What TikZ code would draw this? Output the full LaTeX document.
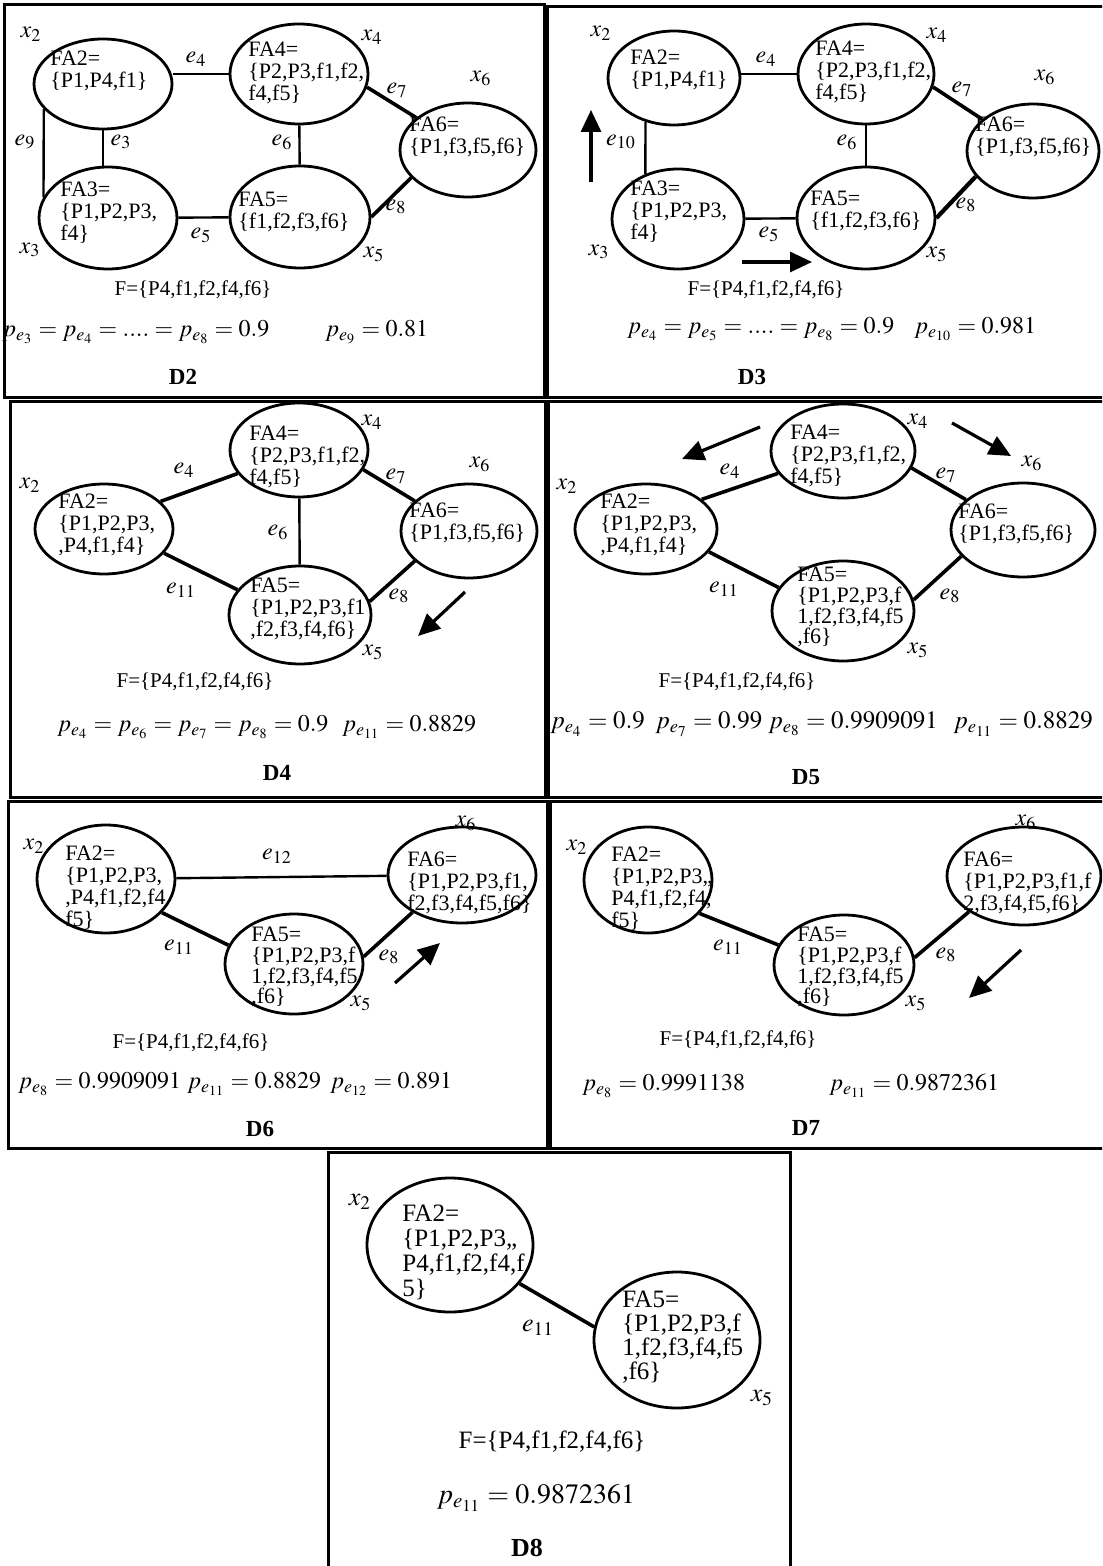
\documentclass[tikz,border=0pt]{standalone}
\usepackage{mathptmx}
\usepackage{fontspec}
\setmainfont{Liberation Serif}
\usepackage{tikz}
\usetikzlibrary{shapes,arrows.meta}

\tikzset{
  fa/.style={ellipse, draw, line width=1.4pt, inner sep=0pt},
  settext/.style={anchor=north west, align=left, inner sep=0pt, font=\fontsize{11}{11}\selectfont},
  lbl/.style={inner sep=0pt, font=\fontsize{12}{13}\selectfont},
  fset/.style={inner sep=0pt, font=\fontsize{10.5}{11}\selectfont},
  prob/.style={anchor=west, inner sep=0pt, font=\fontsize{12}{13}\selectfont},
  tag/.style={inner sep=0pt, font=\fontsize{11.5}{12}\selectfont\bfseries},
  link/.style={line width=1.2pt},
  heavy/.style={line width=1.8pt},
  flow/.style={line width=1.6pt, -{Triangle[length=11pt,width=10pt]}},
  panel/.style={line width=1.5pt},
}

\begin{document}
\begin{tikzpicture}[x=0.5pt,y=-0.5pt]
  \useasboundingbox (0,0) rectangle (1102,1566);
  \clip (0,0) rectangle (1102,1566);

  % ---------------- D2 ----------------
  \begin{scope}[name prefix=d2-]
    \draw[panel] (4,5) rectangle (544,398);
    % sets
    \node[fa, minimum width=69pt, minimum height=45pt] (fa2) at (103,84) {};
    \node[fa, minimum width=69pt, minimum height=50pt] (fa4) at (299,74) {};
    \node[fa, minimum width=68pt, minimum height=47pt] (fa6) at (468,150) {};
    \node[fa, minimum width=69pt, minimum height=51pt] (fa3) at (108,218) {};
    \node[fa, minimum width=70pt, minimum height=51pt] (fa5) at (300,217) {};
    \node[settext] (t2) at (50,51) {FA2=\\\{P1,P4,f1\}};
    \node[settext] (t4) at (248,42) {FA4=\\\{P2,P3,f1,f2,\\f4,f5\}};
    \node[settext] (t6) at (409,117) {FA6=\\\{P1,f3,f5,f6\}};
    \node[settext] (t3) at (60,182) {FA3=\\\{P1,P2,P3,\\f4\}};
    \node[settext] (t5) at (238,192) {FA5=\\\{f1,f2,f3,f6\}};
    % vertices
    \node[lbl] (x2) at (31,34) {$x_2$};
    \node[lbl] (x4) at (372,37) {$x_4$};
    \node[lbl] (x6) at (481,78) {$x_6$};
    \node[lbl] (x3) at (30,250) {$x_3$};
    \node[lbl] (x5) at (374,254) {$x_5$};
    % edges
    \draw[link] (fa2.east |- fa4.west) -- (fa4.west);
    \draw[link] (fa2.south) -- (fa2.south |- fa3.north);
    \draw[link] (fa2.203) -- (fa3.162);
    \draw[link] (fa3) -- (fa5);
    \draw[link] (fa4) -- (fa5);
    \draw[heavy] (fa4.349) -- (fa6.148);
    \draw[heavy] (fa5.east) -- (fa6.206);
    \node[lbl] (e4) at (196,59) {$e_4$};
    \node[lbl] (e7) at (397,90) {$e_7$};
    \node[lbl] (e9) at (25,142) {$e_9$};
    \node[lbl] (e3) at (121,142) {$e_3$};
    \node[lbl] (e6) at (282,142) {$e_6$};
    \node[lbl] (e8) at (396,207) {$e_8$};
    \node[lbl] (e5) at (201,235) {$e_5$};
    % probabilities
    \node[fset] (F) at (193,290) {F=\{P4,f1,f2,f4,f6\}};
    \node[prob] (p1) at (2,332) {$p_{e_3}=p_{e_4}=....=p_{e_8}=0.9$};
    \node[prob] (p2) at (325,332) {$p_{e_9}=0.81$};
    \node[tag] (name) at (183,377) {D2};
  \end{scope}

  % ---------------- D3 ----------------
  \begin{scope}[name prefix=d3-]
    \draw[panel] (547,7) rectangle (1110,398);
    \node[fa, minimum width=66pt, minimum height=47pt] (fa2) at (674,78) {};
    \node[fa, minimum width=68pt, minimum height=50pt] (fa4) at (866,74) {};
    \node[fa, minimum width=66pt, minimum height=47pt] (fa6) at (1033,151) {};
    \node[fa, minimum width=66pt, minimum height=50pt] (fa3) at (678,219) {};
    \node[fa, minimum width=69pt, minimum height=51pt] (fa5) at (866,218) {};
    \node[settext] (t2) at (630,50) {FA2=\\\{P1,P4,f1\}};
    \node[settext] (t4) at (815,41) {FA4=\\\{P2,P3,f1,f2,\\f4,f5\}};
    \node[settext] (t6) at (975,117) {FA6=\\\{P1,f3,f5,f6\}};
    \node[settext] (t3) at (630,181) {FA3=\\\{P1,P2,P3,\\f4\}};
    \node[settext] (t5) at (810,191) {FA5=\\\{f1,f2,f3,f6\}};
    \node[lbl] (x2) at (601,33) {$x_2$};
    \node[lbl] (x4) at (937,35) {$x_4$};
    \node[lbl] (x6) at (1045,77) {$x_6$};
    \node[lbl] (x3) at (599,252) {$x_3$};
    \node[lbl] (x5) at (937,254) {$x_5$};
    \draw[link] (fa2.east |- fa4.west) -- (fa4.west);
    \draw[link] (fa2.237) -- (fa3.126);
    \draw[link] (fa4) -- (fa5);
    \draw[link] (fa3) -- (fa5);
    \draw[heavy] (fa4.349) -- (fa6.148);
    \draw[heavy, line width=2.1pt] (fa5.east) -- (fa6.204);
    \node[lbl] (e4) at (766,59) {$e_4$};
    \node[lbl] (e7) at (962,89) {$e_7$};
    \node[lbl] (e10) at (621,142) {$e_{10}$};
    \node[lbl] (e6) at (847,142) {$e_6$};
    \node[lbl] (e5) at (769,234) {$e_5$};
    \node[lbl] (e8) at (966,205) {$e_8$};
    % moves
    \coordinate (a1) at (591,182);
    \coordinate (a2) at (591,110);
    \draw[flow] (a1) -- (a2);
    \coordinate (b1) at (742,262);
    \coordinate (b2) at (812,262);
    \draw[flow] (b1) -- (b2);
    \node[fset] (F) at (766,290) {F=\{P4,f1,f2,f4,f6\}};
    \node[prob] (p1) at (627,329) {$p_{e_4}=p_{e_5}=....=p_{e_8}=0.9$};
    \node[prob] (p2) at (914,329) {$p_{e_{10}}=0.981$};
    \node[tag] (name) at (752,377) {D3};
  \end{scope}

  % ---------------- D4 ----------------
  \begin{scope}[name prefix=d4-]
    \draw[panel] (10,402) rectangle (545,797);
    \node[fa, minimum width=69pt, minimum height=47pt] (fa4) at (299,450) {};
    \node[fa, minimum width=69pt, minimum height=45pt] (fa2) at (104,529) {};
    \node[fa, minimum width=68pt, minimum height=47pt] (fa6) at (469,531) {};
    \node[fa, minimum width=71pt, minimum height=49pt] (fa5) at (300,615) {};
    \node[settext] (t4) at (249,426) {FA4=\\\{P2,P3,f1,f2,\\f4,f5\}};
    \node[settext] (t2) at (58,494) {FA2=\\\{P1,P2,P3,\\,P4,f1,f4\}};
    \node[settext] (t6) at (409,503) {FA6=\\\{P1,f3,f5,f6\}};
    \node[settext] (t5) at (250,578) {FA5=\\\{P1,P2,P3,f1\\,f2,f3,f4,f6\}};
    \node[lbl] (x4) at (372,422) {$x_4$};
    \node[lbl] (x6) at (480,464) {$x_6$};
    \node[lbl] (x2) at (30,485) {$x_2$};
    \node[lbl] (x5) at (373,652) {$x_5$};
    \draw[heavy] (fa2.26) -- (fa4.201);
    \draw[heavy] (fa4.343) -- (fa6.151);
    \draw[link] (fa4) -- (fa5);
    \draw[heavy] (fa2.338) -- (fa5.158);
    \draw[heavy] (fa5.11) -- (fa6.209);
    \node[lbl] (e4) at (184,470) {$e_4$};
    \node[lbl] (e7) at (396,476) {$e_7$};
    \node[lbl] (e6) at (278,532) {$e_6$};
    \node[lbl] (e11) at (181,590) {$e_{11}$};
    \node[lbl] (e8) at (399,596) {$e_8$};
    \coordinate (a1) at (465,592);
    \coordinate (a2) at (418,636);
    \draw[flow] (a1) -- (a2);
    \node[fset] (F) at (195,682) {F=\{P4,f1,f2,f4,f6\}};
    \node[prob] (p1) at (57,727) {$p_{e_4}=p_{e_6}=p_{e_7}=p_{e_8}=0.9$};
    \node[prob] (p2) at (342,727) {$p_{e_{11}}=0.8829$};
    \node[tag] (name) at (277,773) {D4};
  \end{scope}

  % ---------------- D5 ----------------
  \begin{scope}[name prefix=d5-]
    \draw[panel] (548,402) rectangle (1110,797);
    \node[fa, minimum width=72pt, minimum height=47pt] (fa4) at (843,451) {};
    \node[fa, minimum width=71pt, minimum height=45pt] (fa2) at (646,529) {};
    \node[fa, minimum width=72pt, minimum height=47pt] (fa6) at (1023,530) {};
    \node[fa, minimum width=71pt, minimum height=50pt] (fa5) at (843,611) {};
    \node[settext] (t4) at (790,425) {FA4=\\\{P2,P3,f1,f2,\\f4,f5\}};
    \node[settext] (t2) at (600,494) {FA2=\\\{P1,P2,P3,\\,P4,f1,f4\}};
    \node[settext] (t6) at (958,504) {FA6=\\\{P1,f3,f5,f6\}};
    \node[settext, font=\fontsize{11}{10.3}\selectfont] (t5) at (797,567) {FA5=\\\{P1,P2,P3,f\\1,f2,f3,f4,f5\\,f6\}};
    \node[lbl] (x4) at (918,421) {$x_4$};
    \node[lbl] (x6) at (1032,463) {$x_6$};
    \node[lbl] (x2) at (567,486) {$x_2$};
    \node[lbl] (x5) at (918,650) {$x_5$};
    \draw[heavy] (fa2.28) -- (fa4.199);
    \draw[heavy] (fa4.346) -- (fa6.152);
    \draw[heavy] (fa2.340) -- (fa5.160);
    \draw[heavy] (fa5.9) -- (fa6.203);
    \node[lbl] (e4) at (730,471) {$e_4$};
    \node[lbl] (e7) at (946,475) {$e_7$};
    \node[lbl] (e11) at (724,589) {$e_{11}$};
    \node[lbl] (e8) at (950,596) {$e_8$};
    \coordinate (a1) at (760,427);
    \coordinate (a2) at (682,459);
    \draw[flow] (a1) -- (a2);
    \coordinate (b1) at (952,423);
    \coordinate (b2) at (1011,456);
    \draw[flow] (b1) -- (b2);
    \node[fset] (F) at (737,682) {F=\{P4,f1,f2,f4,f6\}};
    \node[prob, font=\fontsize{12.5}{13}\selectfont] (p1) at (550,724) {$p_{e_4}=0.9$};
    \node[prob, font=\fontsize{12.5}{13}\selectfont] (p2) at (655,724) {$p_{e_7}=0.99$};
    \node[prob, font=\fontsize{12.5}{13}\selectfont] (p3) at (768,724) {$p_{e_8}=0.9909091$};
    \node[prob, font=\fontsize{12.5}{13}\selectfont] (p4) at (953,724) {$p_{e_{11}}=0.8829$};
    \node[tag] (name) at (806,777) {D5};
  \end{scope}

  % ---------------- D6 ----------------
  \begin{scope}[name prefix=d6-]
    \draw[panel] (8,801) rectangle (547,1148);
    \node[fa, minimum width=69pt, minimum height=54pt] (fa2) at (106,879) {};
    \node[fa, minimum width=74pt, minimum height=48pt] (fa6) at (462,875) {};
    \node[fa, minimum width=69pt, minimum height=50pt] (fa5) at (294,964) {};
    \node[settext] (t2) at (65,846) {FA2=\\\{P1,P2,P3,\\,P4,f1,f2,f4\\f5\}};
    \node[settext] (t6) at (407,852) {FA6=\\\{P1,P2,P3,f1,\\f2,f3,f4,f5,f6\}};
    \node[settext, font=\fontsize{11}{10.3}\selectfont] (t5) at (251,927) {FA5=\\\{P1,P2,P3,f\\1,f2,f3,f4,f5\\,f6\}};
    \node[lbl] (x2) at (34,846) {$x_2$};
    \node[lbl] (x6) at (466,823) {$x_6$};
    \node[lbl] (x5) at (361,1003) {$x_5$};
    \draw[link] (fa2) -- (fa6);
    \draw[heavy] (fa2.329) -- (fa5.164);
    \draw[heavy] (fa5.6) -- (fa6.217);
    \node[lbl] (e12) at (277,856) {$e_{12}$};
    \node[lbl] (e11) at (179,947) {$e_{11}$};
    \node[lbl] (e8) at (389,957) {$e_8$};
    \coordinate (a1) at (395,983);
    \coordinate (a2) at (440,943);
    \draw[flow] (a1) -- (a2);
    \node[fset] (F) at (191,1043) {F=\{P4,f1,f2,f4,f6\}};
    \node[prob] (p1) at (18,1084) {$p_{e_8}=0.9909091$};
    \node[prob] (p2) at (187,1084) {$p_{e_{11}}=0.8829$};
    \node[prob] (p3) at (330,1084) {$p_{e_{12}}=0.891$};
    \node[tag] (name) at (260,1129) {D6};
  \end{scope}

  % ---------------- D7 ----------------
  \begin{scope}[name prefix=d7-]
    \draw[panel] (550,801) rectangle (1110,1148);
    \node[fa, minimum width=64pt, minimum height=53pt] (fa2) at (648,880) {};
    \node[fa, minimum width=77pt, minimum height=49pt] (fa6) at (1024,876) {};
    \node[fa, minimum width=70pt, minimum height=50pt] (fa5) at (844,965) {};
    \node[settext] (t2) at (611,847) {FA2=\\\{P1,P2,P3,,\\P4,f1,f2,f4,\\f5\}};
    \node[settext] (t6) at (963,852) {FA6=\\\{P1,P2,P3,f1,f\\2,f3,f4,f5,f6\}};
    \node[settext, font=\fontsize{11}{10.3}\selectfont] (t5) at (797,927) {FA5=\\\{P1,P2,P3,f\\1,f2,f3,f4,f5\\,f6\}};
    \node[lbl] (x2) at (577,847) {$x_2$};
    \node[lbl] (x6) at (1026,822) {$x_6$};
    \node[lbl] (x5) at (916,1003) {$x_5$};
    \draw[heavy] (fa2.327) -- (fa5.163);
    \draw[heavy] (fa5.6) -- (fa6.213);
    \node[lbl] (e11) at (728,947) {$e_{11}$};
    \node[lbl] (e8) at (946,955) {$e_8$};
    \coordinate (a1) at (1021,950);
    \coordinate (a2) at (969,998);
    \draw[flow] (a1) -- (a2);
    \node[fset] (F) at (738,1040) {F=\{P4,f1,f2,f4,f6\}};
    \node[prob] (p1) at (582,1086) {$p_{e_8}=0.9991138$};
    \node[prob] (p2) at (829,1086) {$p_{e_{11}}=0.9872361$};
    \node[tag] (name) at (806,1128) {D7};
  \end{scope}

  % ---------------- D8 ----------------
  \begin{scope}[name prefix=d8-]
    \draw[panel] (328,1152) rectangle (790,1575);
    \node[fa, minimum width=83pt, minimum height=67pt] (fa2) at (450,1245) {};
    \node[fa, minimum width=83pt, minimum height=68pt] (fa5) at (677,1340) {};
    \node[settext, font=\fontsize{12.5}{12.5}\selectfont] (t2) at (402,1205) {FA2=\\\{P1,P2,P3,,\\P4,f1,f2,f4,f\\5\}};
    \node[settext, font=\fontsize{12.5}{12}\selectfont] (t5) at (622,1291) {FA5=\\\{P1,P2,P3,f\\1,f2,f3,f4,f5\\,f6\}};
    \node[lbl, font=\fontsize{13}{14}\selectfont] (x2) at (360,1202) {$x_2$};
    \node[lbl, font=\fontsize{13}{14}\selectfont] (x5) at (762,1398) {$x_5$};
    \draw[heavy] (fa2.331) -- (fa5.171);
    \node[lbl, font=\fontsize{13}{14}\selectfont] (e11) at (538,1328) {$e_{11}$};
    \node[fset, font=\fontsize{12.5}{13}\selectfont] (F) at (552,1442) {F=\{P4,f1,f2,f4,f6\}};
    \node[inner sep=0pt, font=\fontsize{14}{15}\selectfont] (p1) at (536,1498) {$p_{e_{11}}=0.9872361$};
    \node[tag, font=\fontsize{13}{14}\selectfont\bfseries] (name) at (527,1548) {D8};
  \end{scope}
\end{tikzpicture}
\end{document}
